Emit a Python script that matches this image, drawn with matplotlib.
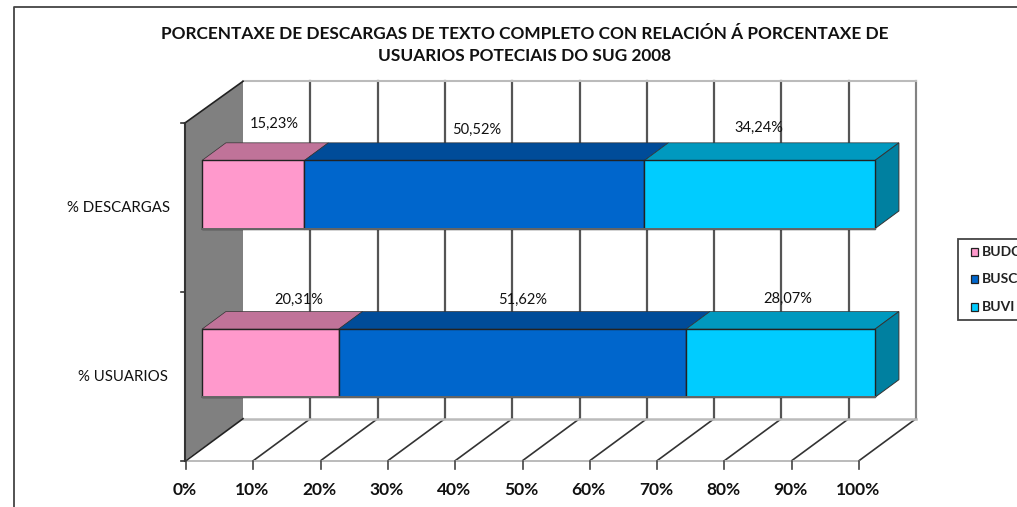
import matplotlib
matplotlib.use("Agg")
import matplotlib.pyplot as plt
from matplotlib.patches import Polygon, Rectangle

# datos
categorias = ["% USUARIOS", "% DESCARGAS"]
series = ["BUDC", "BUSC", "BUVI"]
budc = [20.31, 15.23]
busc = [51.62, 50.52]
buvi = [28.07, 34.24]
etiquetas_x = ["0%", "10%", "20%", "30%", "40%", "50%", "60%", "70%", "80%", "90%", "100%"]
valores_x = [0, 10, 20, 30, 40, 50, 60, 70, 80, 90, 100]
titulo = ("PORCENTAXE DE DESCARGAS DE TEXTO COMPLETO CON RELACIÓN Á PORCENTAXE DE\n"
          "USUARIOS POTECIAIS DO SUG 2008")

# cores: frente, arriba, lado
cor_frente = ["#FF99CC", "#0066CC", "#00CCFF"]
cor_arriba = ["#C07399", "#004C99", "#0099BF"]
cor_lado = "#0080A0"
texto = "#111111"

# proyeccion 3D falsa, en pixeles
X0, Y0 = 186, 460.7
ESC_X, ESC_Y = 6.73, 168.7
DX, DY = 57, 42
D1, D2 = 0.28, 0.70
ALTO = 0.404
SUBE = 0.008


def px(pct, v, d=0):
    return (X0 + ESC_X * pct + DX * d, Y0 - ESC_Y * v - DY * d)


fig = plt.figure(figsize=(10.17, 5.07), dpi=100)
ax = fig.add_axes([0, 0, 1, 1])
ax.set_xlim(0, 1017)
ax.set_ylim(507, 0)
ax.axis("off")
plt.rcParams["font.family"] = "Lato"

# marco do grafico
ax.plot([13.5, 13.5, 1017], [507, 6.5, 6.5], color="#444444", lw=1.3, zorder=1)

# parede esquerda
ax.add_patch(Polygon([(px(0, 0)[0] - 1.5, px(0, 0)[1]), (px(0, 2)[0] - 1.5, px(0, 2)[1]),
                      px(0, 2, 1), px(0, 0, 1)], fc="#808080", ec="none", zorder=2))
ax.plot([px(0, 0)[0] - 1.5, px(0, 2)[0] - 1.5], [px(0, 0)[1], px(0, 2)[1]], color="#333333", lw=1.5, zorder=3)
ax.plot(*zip((px(0, 2)[0] - 1.5, px(0, 2)[1]), px(0, 2, 1)), color="#222222", lw=1.2, zorder=3)
ax.plot(*zip(px(0, 0), px(0, 0, 1)), color="#222222", lw=1.2, zorder=3)

# rede
for v in valores_x[1:]:
    cor = "#aaaaaa" if v == 100 else "#555555"
    ax.plot(*zip(px(v, 0, 1), px(v, 2, 1)), color=cor, lw=1.6, zorder=2)
    ax.plot(*zip(px(v, 0), px(v, 0, 1)), color="#333333", lw=1.2, zorder=2)
ax.plot(*zip(px(100, 0, 1), px(100, 2, 1)), color="#777777", lw=1.1, zorder=2)
ax.plot(*zip(px(0, 2, 1), px(100, 2, 1)), color="#bbbbbb", lw=1.5, zorder=2)
ax.plot(*zip(px(0, 0, 1), px(100, 0, 1)), color="#bbbbbb", lw=1.8, zorder=2)
ax.plot(*zip(px(0, 0), px(100, 0)), color="#bbbbbb", lw=1.4, zorder=2)

# eixos: marcas
for v, et in zip(valores_x, etiquetas_x):
    x, y = px(v, 0)
    ax.plot([x, x], [y, y + 8], color="#444444", lw=1.2, zorder=3)
    ax.text(x - 1, 490, et, ha="center", va="center", fontsize=12.5, fontweight="bold", color=texto)
for v in [0, 1, 2]:
    x, y = px(0, v)
    ax.plot([x - 5.5, x - 1.5], [y, y], color="#333333", lw=1.2, zorder=3)

# barras
valores = [budc, busc, buvi]
for i, cat in enumerate(categorias):
    c = i + 0.5 + SUBE
    v1, v2 = c - ALTO / 2, c + ALTO / 2
    ini = 0
    for s in range(len(series)):
        fim = ini + valores[s][i]
        ax.add_patch(Polygon([px(ini, v2, D1), px(fim, v2, D1), px(fim, v2, D2), px(ini, v2, D2)],
                             fc=cor_arriba[s], ec="#333333", lw=0.5, zorder=4))
        ax.add_patch(Polygon([px(ini, v1, D1), px(fim, v1, D1), px(fim, v2, D1), px(ini, v2, D1)],
                             fc=cor_frente[s], ec="#222222", lw=1.0, zorder=5))
        ini = fim
    ax.add_patch(Polygon([px(100, v1, D1), px(100, v2, D1), px(100, v2, D2), px(100, v1, D2)],
                         fc=cor_lado, ec="#333333", lw=0.7, zorder=4))
    ax.plot(*zip(px(0, v1, D1), px(100, v1, D1)), color="#666666", lw=1.4, zorder=6)

# etiquetas das barras
pos_et = {(0, 1): (274, 124), (1, 1): (477, 130), (2, 1): (759, 128),
          (0, 0): (299, 300), (1, 0): (523, 300), (2, 0): (788, 299)}
for (s, i), (x, y) in pos_et.items():
    et = f"{valores[s][i]:.2f}%".replace(".", ",")
    ax.text(x, y, et, ha="center", va="center", fontsize=10.5, color=texto, zorder=7)

# categorias
ax.text(170, 208, categorias[1], ha="right", va="center", fontsize=10.8, color=texto)
ax.text(168, 377, categorias[0], ha="right", va="center", fontsize=10.8, color=texto)

# titulo
ax.text(525, 45, titulo, ha="center", va="center", fontsize=12.45, fontweight="bold",
        color=texto, linespacing=1.45)

# lenda
ax.add_patch(Rectangle((957.5, 239), 80, 81, fc="white", ec="#444444", lw=1.3, zorder=5))
for s, y in zip(range(3), [252, 279, 307]):
    ax.add_patch(Rectangle((971, y - 4), 6.5, 8, fc=cor_frente[s], ec="#222222", lw=0.9, zorder=6))
    ax.text(982, y, series[s], ha="left", va="center", fontsize=10, fontweight="bold",
            color="#222222", zorder=6)

fig.savefig("out.png", dpi=100)
